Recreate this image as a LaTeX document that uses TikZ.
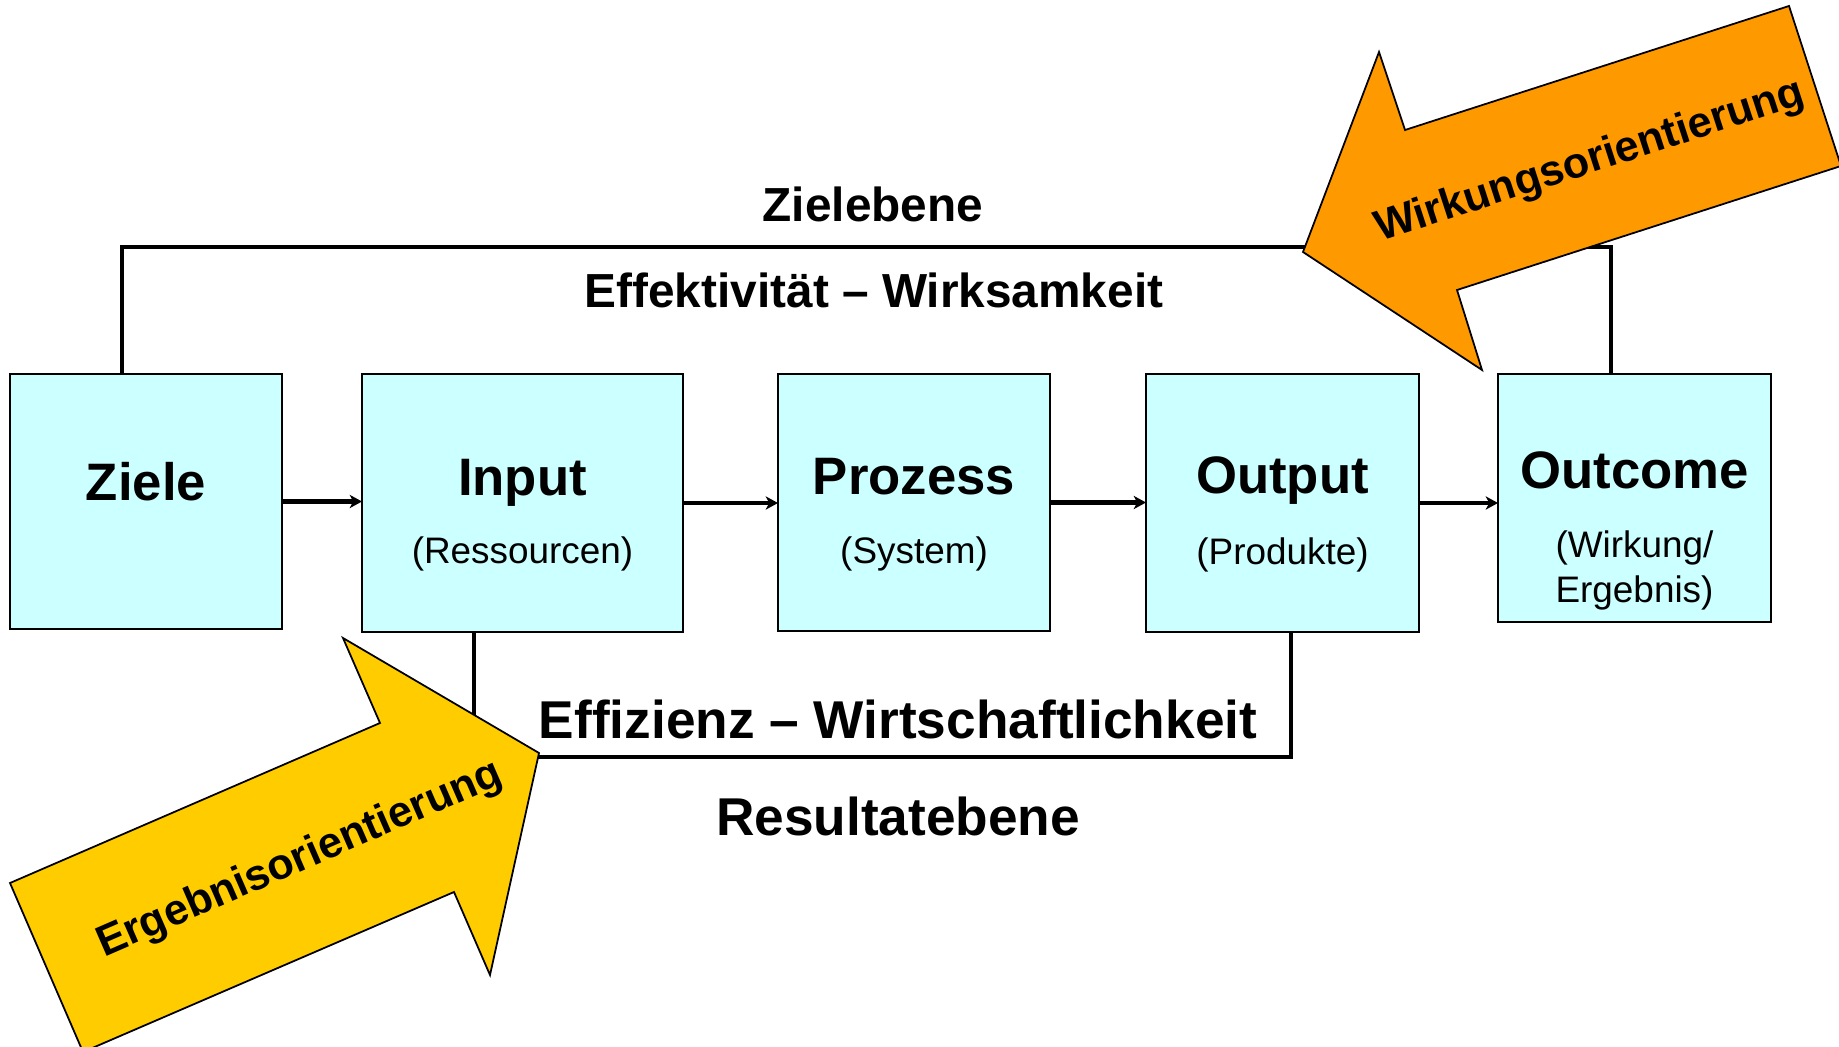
\documentclass[tikz,border=0pt]{standalone}
\usepackage{fontspec}
\setmainfont{Liberation Sans}
\usetikzlibrary{arrows.meta}
\definecolor{boxcol}{RGB}{204,255,255}
\definecolor{wirkcol}{RGB}{255,153,0}
\definecolor{ergcol}{RGB}{255,204,0}

\begin{document}
\begin{tikzpicture}[x=0.02cm, y=-0.02cm,
    stage/.style={draw, line width=1.1pt, fill=boxcol, inner sep=0pt, outer sep=0pt},
    title/.style={font=\bfseries\fontsize{30}{35}\selectfont, anchor=base, inner sep=0pt},
    sub/.style={font=\fontsize{21}{25.6}\selectfont, anchor=base, inner sep=0pt},
    level/.style={font=\bfseries\fontsize{27.2}{32}\selectfont, anchor=base, inner sep=0pt},
    flow/.style={line width=2.3pt, -{Stealth[length=7pt, width=7.5pt, inset=2pt]}},
    frame/.style={line width=2.4pt},
    bigarrow/.style={draw, line width=1pt, line join=miter},
    arrowtext/.style={font=\bfseries\fontsize{24.6}{30}\selectfont, inner sep=0pt}
]
    \useasboundingbox (0,0) rectangle (1839,1047);

    % The five stages
    \node[stage, minimum width=5.44cm, minimum height=5.1cm]  (ziele)   at (146,501.5)  {};
    \node[stage, minimum width=6.42cm, minimum height=5.16cm] (input)   at (522.5,503)  {};
    \node[stage, minimum width=5.44cm, minimum height=5.14cm] (prozess) at (914,502.5)  {};
    \node[stage, minimum width=5.46cm, minimum height=5.16cm] (output)  at (1282.5,503) {};
    \node[stage, minimum width=5.46cm, minimum height=4.96cm] (outcome) at (1634.5,498) {};

    \node[title] (zieleT)   at (146,500)    {Ziele};
    \node[title] (inputT)   at (522.5,495)  {Input};
    \node[sub]   (inputS)   at (522.5,563)  {(Ressourcen)};
    \node[title] (prozessT) at (914,494)    {Prozess};
    \node[sub]   (prozessS) at (914,563)    {(System)};
    \node[title] (outputT)  at (1282.5,493) {Output};
    \node[sub]   (outputS)  at (1282.5,564) {(Produkte)};
    \node[title] (outcomeT) at (1634.5,488) {Outcome};
    \node[sub]   (outcomeS) at (1634.5,557) {(Wirkung/};
    \node[sub]   (outcomeR) at (1634.5,602) {Ergebnis)};

    % Chain of arrows
    \draw[flow] (ziele.east)  -- (ziele.east -| input.west);
    \draw[flow] (input.east)  -- (input.east -| prozess.west);
    \draw[flow] (prozess.east) -- (prozess.east -| output.west);
    \draw[flow] (output.east) -- (output.east -| outcome.west);

    % Goal level above, result level below
    \draw[frame] ([xshift=-0.48cm]ziele.north) -- ++(0,-127) -| ([xshift=-0.47cm]outcome.north);
    \draw[frame] ([xshift=-0.97cm]input.south) -- ++(0,125) -| ([xshift=0.17cm]output.south);

    \node[level] (zielebene) at (873,222) {Zielebene};
    \node[level] (effekt)    at (874,308) {Effektivität \textendash{} Wirksamkeit};
    \node[level, font=\bfseries\fontsize{30.3}{35}\selectfont] (effiz) at (898,738) {Effizienz \textendash{} Wirtschaftlichkeit};
    \node[level, font=\bfseries\fontsize{30.3}{35}\selectfont] (resultat) at (898,835) {Resultatebene};

    % Orientation arrows
    \filldraw[bigarrow, fill=wirkcol] (1303,252) -- (1379,52) -- (1405,130) -- (1789,6)
        -- (1841,166) -- (1457,290) -- (1482,370) -- cycle;
    \node[arrowtext, rotate=18] (wirk) at (1590,162) {Wirkungsorientierung};

    \filldraw[bigarrow, fill=ergcol] (539,753) -- (490,975) -- (454,892) -- (83,1052)
        -- (10,883) -- (380,723) -- (343,638) -- cycle;
    \node[arrowtext, rotate=23.5] (erg) at (300,860) {Ergebnisorientierung};

\end{tikzpicture}
\end{document}
